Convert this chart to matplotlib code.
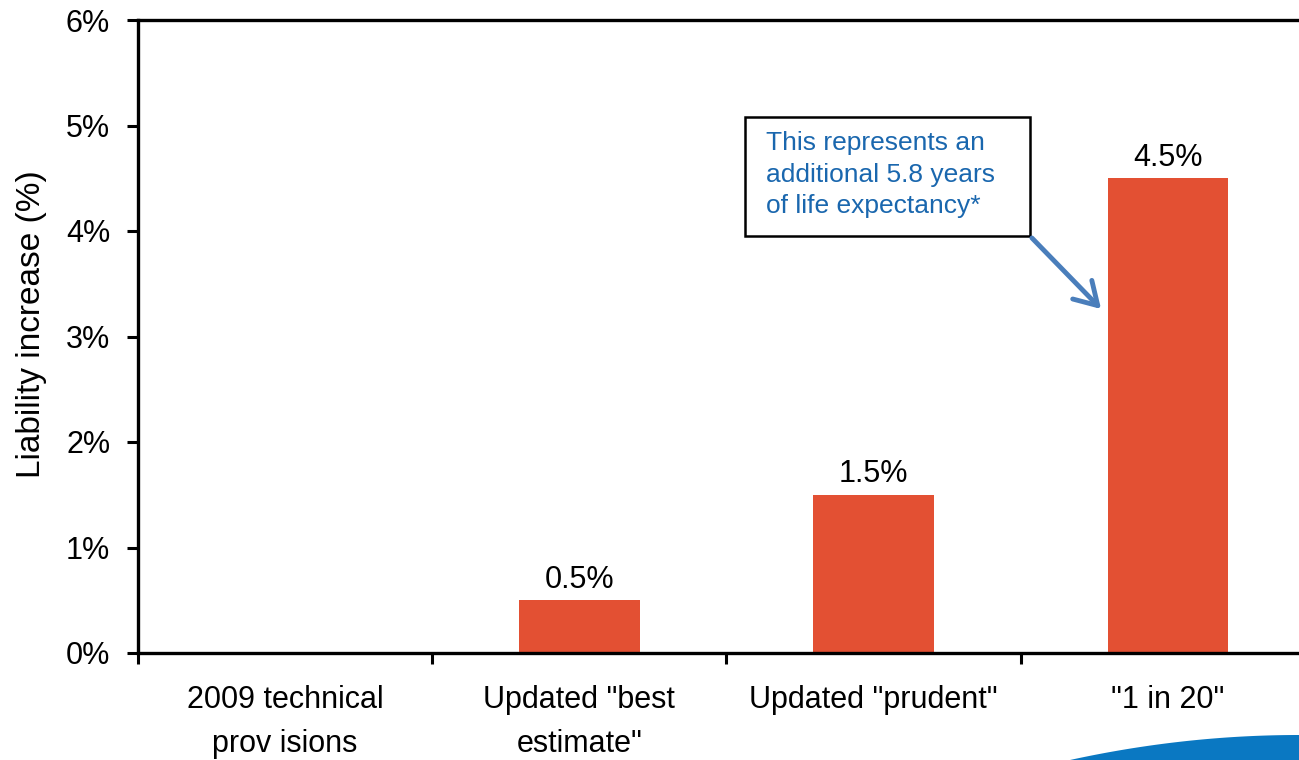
import matplotlib
matplotlib.use("Agg")
import matplotlib.pyplot as plt
from matplotlib.patches import Polygon, FancyArrowPatch, Rectangle
import numpy as np

categories = ['2009 technical\nprov isions', 'Updated "best\nestimate"', 'Updated "prudent"', '"1 in 20"']
values = [0.0, 0.5, 1.5, 4.5]
bar_labels = ['', '0.5%', '1.5%', '4.5%']
yticks = [0, 1, 2, 3, 4, 5, 6]
ytick_labels = ['0%', '1%', '2%', '3%', '4%', '5%', '6%']
ylabel = 'Liability increase (%)'
note = 'This represents an\nadditional 5.8 years\nof life expectancy*'

plt.rcParams['font.family'] = ['Liberation Sans', 'DejaVu Sans']

W, H = 1299, 760
fig = plt.figure(figsize=(W / 100, H / 100), dpi=100)
ax = fig.add_axes([138 / W, 1 - 653 / H, 1177 / W, 633 / H])

FS = 22
x = np.arange(len(categories))
bars = ax.bar(x, values, width=0.41, color='#E35033', zorder=2)
ax.bar_label(bars, labels=bar_labels, padding=4, fontsize=FS)

ax.set_xlim(-0.5, 3.5)
ax.set_ylim(0, 6)
ax.set_yticks(yticks)
ax.set_yticklabels(ytick_labels, fontsize=FS)
ax.set_xticks([-0.5, 0.5, 1.5, 2.5, 3.5])
ax.set_xticklabels([])
ax.set_xticks(x, minor=True)
ax.set_xticklabels(categories, minor=True, fontsize=FS, linespacing=1.6)
ax.tick_params(axis='x', which='minor', length=0, pad=23)
ax.tick_params(axis='x', which='major', length=8, width=2.2, direction='out')
ax.tick_params(axis='y', length=8, width=2.2, direction='out', pad=12)
ax.set_ylabel(ylabel, fontsize=FS + 2)
ax.yaxis.set_label_coords(-0.077, 0.52)

for s in ['left', 'bottom', 'top']:
    ax.spines[s].set_linewidth(2.4)
ax.spines['right'].set_visible(False)

# annotation box
fig.text(766 / W, 1 - 131 / H, note, fontsize=19, color='#1A67AE', va='top', ha='left',
         linespacing=1.4)
fig.patches.append(Rectangle((745 / W, 1 - 236 / H), (1030 - 745) / W, (236 - 117) / H,
                             transform=fig.transFigure, fill=False, edgecolor='black',
                             linewidth=1.8, zorder=3))
arrow = FancyArrowPatch((1030 / W, 1 - 236 / H), (1103 / W, 1 - 311 / H),
                        transform=fig.transFigure, arrowstyle='->,head_length=10,head_width=6',
                        color='#4A7EBB', linewidth=3.5, mutation_scale=1.6, zorder=4)
fig.patches.append(arrow)

# decorative swoosh bottom right
t = np.linspace(0, 1, 60)
sx = 1070 + (1299 - 1070) * t
sy = 760 - (760 - 735) * (1 - (1 - t) ** 2)
pts = [(px / W, 1 - py / H) for px, py in zip(sx, sy)] + [(1.0, 0.0), (1070 / W, 0.0)]
fig.patches.append(Polygon(pts, closed=True, transform=fig.transFigure,
                           facecolor='#0A78C2', edgecolor='none', zorder=1))

fig.savefig('out.png', dpi=100)
